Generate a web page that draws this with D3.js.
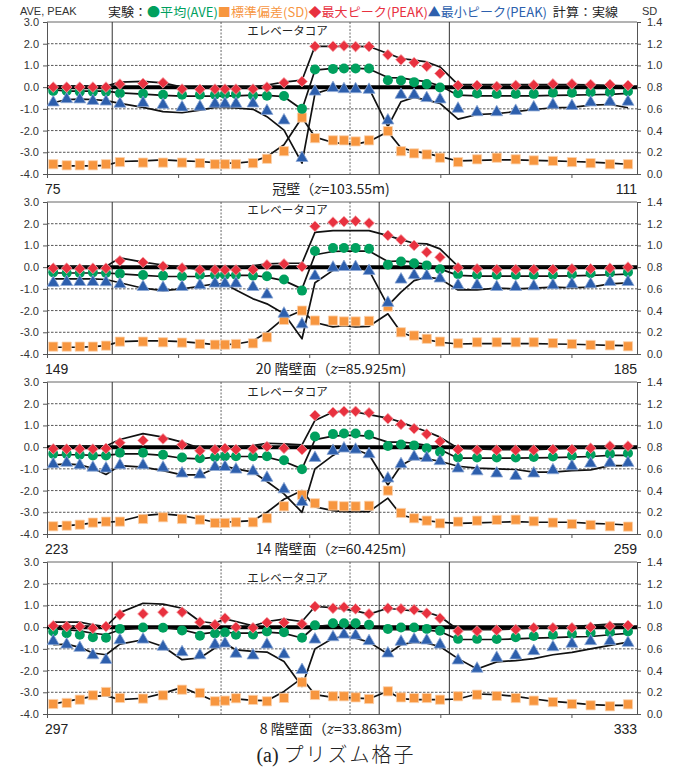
<!DOCTYPE html>
<html>
<head>
<meta charset="utf-8">
<script src="https://cdn.jsdelivr.net/npm/d3@7"></script>
<style>
  body { margin: 0; background: #fff; }
  svg { display: block; }
</style>
</head>
<body>
<svg id="chart" width="682" height="769"></svg>
<script>
// Tap positions along the wall, as offsets from the first tap number of each floor
const tapOffsets = [0.38, 1.2, 2.0, 2.8, 3.6, 4.45, 5.86, 7.08, 8.24, 9.33, 10.25, 10.86, 11.53,
  12.57, 13.42, 14.46, 15.56, 16.35, 17.45, 18.12, 18.83, 19.65, 20.8, 21.6, 22.4, 23.17, 23.98,
  25.08, 26.24, 27.44, 28.6, 29.7, 30.87, 32.03, 33.17, 34.35, 35.45];
const tapSpan = 36;
const tapTicks = [0, 8, 16, 24, 32];

// One panel per measurement height
const panelStartTaps = [75, 149, 223, 297];
const panelNames = ["冠壁", "20 階壁面", "14 階壁面", "8 階壁面"];
const panelHeights = ["103.55", "85.925", "60.425", "33.863"];

// Axis ticks
const peakTicks = [-4, -3, -2, -1, 0, 1, 2, 3];
const sdTicks = [0, 0.2, 0.4, 0.6, 0.8, 1.0, 1.2, 1.4];

// Building outline along the tap line: wall corners and elevator-core edges
const wallCorners = [3.98, 20.27, 24.55];
const coreEdges = [10.62, 18.49];

// Experiment: mean pressure coefficient
const aveExp = [
  [-0.18,-0.18,-0.21,-0.21,-0.21,-0.28,-0.31,-0.35,-0.35,-0.35,-0.35,-0.32,-0.32,-0.38,-0.40,-0.41,-1.00,0.81,0.84,
   0.86,0.86,0.86,0.32,0.31,0.23,0.14,-0.02,-0.28,-0.29,-0.31,-0.31,-0.31,-0.26,-0.26,-0.23,-0.23,-0.20],
  [-0.24,-0.27,-0.27,-0.24,-0.27,-0.30,-0.36,-0.39,-0.42,-0.36,-0.36,-0.36,-0.36,-0.39,-0.42,-0.57,-1.08,0.74,0.88,
   0.88,0.88,0.85,0.11,0.26,0.18,0.08,-0.10,-0.32,-0.35,-0.35,-0.35,-0.35,-0.35,-0.32,-0.28,-0.26,-0.23],
  [-0.31,-0.31,-0.35,-0.38,-0.38,-0.26,-0.26,-0.35,-0.48,-0.51,-0.45,-0.42,-0.42,-0.42,-0.42,-0.60,-1.02,0.49,0.60,
   0.63,0.63,0.57,0.05,0.12,0.08,-0.05,-0.22,-0.48,-0.48,-0.48,-0.48,-0.45,-0.43,-0.40,-0.34,-0.31,-0.28],
  [-0.20,-0.28,-0.35,-0.46,-0.49,-0.08,-0.02,-0.03,-0.15,-0.40,-0.29,-0.25,-0.35,-0.34,-0.20,-0.23,-0.49,0.09,0.18,
   0.18,0.18,0.11,-0.08,-0.02,-0.02,-0.08,-0.17,-0.54,-0.54,-0.55,-0.46,-0.41,-0.35,-0.31,-0.26,-0.23,-0.20]
];
// Experiment: standard deviation (right axis)
const sdExp = [
  [0.09,0.08,0.08,0.08,0.09,0.11,0.105,0.105,0.105,0.10,0.09,0.09,0.09,0.10,0.14,0.21,0.52,0.33,0.31,
   0.31,0.30,0.31,0.395,0.21,0.19,0.18,0.15,0.11,0.135,0.15,0.135,0.125,0.12,0.11,0.10,0.09,0.09],
  [0.068,0.068,0.068,0.068,0.077,0.114,0.114,0.108,0.105,0.092,0.086,0.086,0.092,0.098,0.154,0.314,0.40,0.308,0.308,
   0.30,0.30,0.305,0.437,0.20,0.17,0.14,0.114,0.098,0.108,0.108,0.108,0.108,0.10,0.092,0.083,0.08,0.071],
  [0.071,0.077,0.086,0.105,0.114,0.114,0.138,0.154,0.138,0.132,0.102,0.102,0.108,0.108,0.145,0.255,0.36,0.283,0.262,
   0.255,0.255,0.26,0.40,0.194,0.145,0.123,0.098,0.114,0.123,0.13,0.132,0.117,0.105,0.092,0.083,0.071,0.068],
  [0.092,0.102,0.132,0.172,0.203,0.148,0.142,0.172,0.224,0.194,0.117,0.123,0.145,0.13,0.117,0.148,0.292,0.175,0.163,
   0.163,0.153,0.138,0.209,0.153,0.147,0.147,0.132,0.163,0.178,0.166,0.147,0.123,0.11,0.092,0.08,0.071,0.089]
];
// Experiment: maximum peak
const maxExp = [
  [0.00,0.00,0.00,0.00,0.00,0.14,0.17,0.20,-0.09,-0.10,-0.09,-0.09,-0.09,-0.09,0.00,0.20,0.26,1.88,1.88,
   1.90,1.87,1.87,1.49,1.26,1.13,0.96,0.63,0.08,0.08,0.03,0.08,0.10,0.15,0.15,0.12,0.12,0.08],
  [-0.05,-0.05,-0.08,-0.05,-0.05,0.29,0.22,0.04,-0.04,-0.13,-0.13,-0.13,-0.13,-0.12,0.10,0.15,0.02,1.88,2.07,
   2.10,2.12,2.03,1.46,1.26,1.00,0.69,0.46,-0.03,-0.08,-0.11,-0.11,-0.11,-0.11,-0.08,-0.08,-0.05,0.00],
  [-0.08,-0.09,-0.09,-0.09,-0.06,0.20,0.31,0.38,0.11,-0.17,-0.12,-0.06,-0.11,-0.09,0.02,-0.05,-0.11,1.46,1.60,
   1.65,1.65,1.58,1.31,1.05,0.85,0.60,0.26,-0.11,-0.14,-0.14,-0.14,-0.14,-0.11,-0.11,-0.05,0.05,0.05],
  [0.06,0.03,0.03,-0.05,0.03,0.57,0.61,0.69,0.69,0.23,0.11,0.41,0.00,-0.03,0.21,0.21,0.15,0.95,0.87,
   0.92,0.84,0.61,0.87,0.84,0.80,0.64,0.41,-0.18,-0.18,-0.14,-0.11,-0.03,-0.03,-0.03,0.00,0.05,0.08]
];
// Experiment: minimum peak
const minExp = [
  [-0.64,-0.49,-0.50,-0.57,-0.60,-0.70,-0.67,-0.75,-0.87,-0.84,-0.70,-0.70,-0.70,-0.69,-1.03,-1.47,-3.20,-0.14,0.02,
   -0.03,-0.03,-0.06,-1.47,-0.29,-0.29,-0.44,-0.50,-0.93,-1.09,-1.09,-1.03,-0.87,-0.75,-0.80,-0.64,-0.61,-0.61],
  [-0.66,-0.62,-0.62,-0.62,-0.63,-0.72,-0.85,-0.89,-0.85,-0.77,-0.69,-0.69,-0.69,-0.85,-1.20,-2.08,-2.57,-0.34,0.04,
   0.07,0.07,-0.11,-1.58,-0.51,-0.31,-0.34,-0.46,-0.77,-0.77,-0.85,-0.85,-0.82,-0.77,-0.72,-0.72,-0.62,-0.62],
  [-0.72,-0.66,-0.77,-0.88,-0.92,-0.77,-0.77,-0.88,-1.15,-1.20,-0.85,-0.85,-0.97,-1.05,-1.35,-1.88,-2.46,-0.43,-0.11,
   0.00,-0.05,-0.26,-1.38,-0.72,-0.38,-0.43,-0.58,-0.92,-1.05,-1.15,-1.26,-1.15,-1.00,-0.82,-0.69,-0.66,-0.66],
  [-0.58,-0.74,-0.89,-1.23,-1.45,-0.54,-0.51,-0.84,-1.09,-1.23,-0.74,-0.69,-1.16,-1.24,-0.74,-1.19,-1.91,-0.51,-0.40,
   -0.28,-0.32,-0.58,-1.15,-0.61,-0.51,-0.55,-0.74,-1.47,-1.85,-1.35,-1.24,-1.04,-0.86,-0.70,-0.58,-0.58,-0.66]
];

// Calculation (solid lines)
const aveCalc = [
  [-0.12,-0.18,-0.18,-0.18,-0.18,-0.26,-0.32,-0.38,-0.41,-0.41,-0.41,-0.40,-0.40,-0.37,-0.38,-0.44,-1.03,0.78,0.86,
   0.86,0.86,0.84,0.44,0.43,0.32,0.25,0.06,-0.37,-0.40,-0.40,-0.40,-0.40,-0.38,-0.37,-0.35,-0.33,-0.29],
  [-0.27,-0.27,-0.27,-0.27,-0.27,-0.31,-0.38,-0.43,-0.43,-0.43,-0.38,-0.38,-0.38,-0.38,-0.46,-0.62,-1.00,0.57,0.72,
   0.74,0.74,0.74,0.26,0.29,0.23,0.11,-0.08,-0.38,-0.41,-0.41,-0.41,-0.41,-0.41,-0.40,-0.38,-0.35,-0.32],
  [-0.38,-0.35,-0.35,-0.38,-0.38,-0.31,-0.31,-0.38,-0.51,-0.54,-0.46,-0.43,-0.43,-0.43,-0.46,-0.66,-1.00,0.35,0.51,
   0.54,0.54,0.51,0.23,0.23,0.18,0.08,-0.11,-0.51,-0.51,-0.51,-0.51,-0.49,-0.48,-0.46,-0.43,-0.38,-0.38],
  [-0.08,-0.12,-0.17,-0.28,-0.35,-0.12,-0.05,-0.02,-0.12,-0.32,-0.23,-0.23,-0.28,-0.28,-0.23,-0.29,-0.50,0.03,0.11,
   0.11,0.08,0.02,-0.12,-0.12,-0.12,-0.14,-0.20,-0.57,-0.57,-0.57,-0.54,-0.51,-0.48,-0.45,-0.43,-0.35,-0.29]
];
const sdCalc = [
  [0.075,0.075,0.075,0.075,0.08,0.115,0.12,0.13,0.12,0.115,0.105,0.10,0.10,0.115,0.16,0.27,0.52,0.34,0.29,
   0.28,0.275,0.30,0.39,0.24,0.21,0.19,0.16,0.12,0.125,0.13,0.13,0.125,0.12,0.115,0.11,0.10,0.09],
  [0.062,0.062,0.062,0.068,0.077,0.114,0.12,0.12,0.114,0.10,0.086,0.086,0.092,0.12,0.20,0.33,0.40,0.29,0.25,
   0.26,0.25,0.255,0.37,0.20,0.154,0.132,0.108,0.092,0.095,0.095,0.095,0.095,0.092,0.09,0.085,0.08,0.077],
  [0.071,0.077,0.086,0.102,0.108,0.117,0.17,0.185,0.17,0.138,0.108,0.108,0.114,0.123,0.20,0.32,0.40,0.25,0.215,
   0.206,0.206,0.206,0.33,0.175,0.145,0.123,0.108,0.098,0.102,0.108,0.114,0.108,0.108,0.108,0.098,0.092,0.083],
  [0.092,0.117,0.14,0.163,0.169,0.132,0.145,0.19,0.245,0.178,0.117,0.126,0.14,0.126,0.123,0.208,0.33,0.178,0.153,
   0.153,0.147,0.141,0.21,0.141,0.132,0.132,0.132,0.138,0.184,0.178,0.163,0.138,0.117,0.102,0.086,0.08,0.08]
];
const maxCalc = [
  [0.05,0.05,0.05,0.05,0.05,0.23,0.27,0.20,0.00,-0.05,-0.05,-0.03,-0.02,0.00,0.10,0.23,0.32,1.88,1.88,
   1.88,1.88,1.87,1.55,1.32,1.24,1.16,0.93,0.12,0.12,0.12,0.12,0.12,0.12,0.12,0.10,0.08,0.06],
  [0.03,0.03,0.03,0.03,0.03,0.43,0.23,0.10,0.00,-0.10,-0.10,-0.10,-0.05,0.07,0.15,0.18,0.18,1.60,1.68,
   1.68,1.68,1.68,1.45,1.27,1.10,1.07,0.84,0.04,0.04,0.04,0.04,0.04,0.04,0.05,0.05,0.06,0.07],
  [0.05,0.05,0.05,0.05,0.05,0.35,0.62,0.46,0.23,-0.05,-0.05,-0.05,0.00,0.07,0.18,0.15,0.10,1.23,1.62,
   1.65,1.62,1.50,1.34,1.15,0.92,0.72,0.46,-0.05,-0.08,-0.11,-0.11,-0.11,-0.08,-0.05,0.00,0.00,0.00],
  [0.23,0.23,0.23,0.11,0.03,0.67,1.10,1.06,0.87,0.26,0.18,0.38,0.26,0.06,0.26,0.37,0.26,0.95,0.90,
   0.83,0.75,0.60,0.87,0.80,0.75,0.69,0.49,-0.12,-0.12,-0.12,-0.08,-0.02,0.03,0.03,0.08,0.14,0.14]
];
const minCalc = [
  [-0.72,-0.57,-0.55,-0.57,-0.62,-0.75,-0.93,-1.13,-1.18,-1.06,-0.93,-0.93,-0.96,-1.02,-1.36,-1.98,-3.50,-0.30,-0.05,
   -0.03,-0.03,-0.06,-1.82,-0.67,-0.47,-0.60,-0.75,-1.47,-1.26,-1.22,-1.13,-1.03,-0.95,-0.93,-0.83,-0.80,-0.95],
  [-0.54,-0.54,-0.54,-0.54,-0.57,-0.72,-0.97,-1.08,-1.00,-0.88,-0.77,-0.77,-1.05,-1.46,-1.69,-2.15,-3.30,-0.72,-0.15,
   0.00,-0.05,-0.15,-1.77,-1.15,-0.62,-0.46,-0.54,-1.05,-1.05,-0.97,-1.00,-0.97,-0.92,-0.95,-0.92,-0.77,-0.72],
  [-0.82,-0.77,-0.82,-0.97,-1.26,-0.85,-0.92,-1.08,-1.28,-1.28,-0.97,-0.88,-1.00,-1.15,-1.58,-2.15,-3.00,-1.00,-0.38,
   -0.08,-0.11,-0.35,-1.74,-0.85,-0.51,-0.54,-0.65,-0.88,-0.97,-1.00,-1.03,-1.15,-1.15,-1.08,-1.05,-0.85,-0.85],
  [-0.81,-0.78,-0.93,-1.19,-1.27,-0.78,-0.58,-0.89,-1.50,-1.42,-0.96,-0.74,-1.05,-1.12,-1.15,-1.58,-2.73,-1.00,-0.51,
   -0.43,-0.51,-0.69,-1.24,-0.81,-0.69,-0.74,-0.89,-1.45,-1.93,-1.60,-1.54,-1.45,-1.27,-1.16,-1.00,-0.84,-0.69]
];

// ---- layout ----
const plotLeft = 47, plotRight = 637;
const panelTop0 = 22, panelStep = 180, panelH = 152;
const coreLabelDy = [9, 8, 10, 16];

const C = {
  ave: "#00a05e",
  sd: "#f7963f",
  max: "#e8313f",
  min: "#2d5fad",
  axis: "#555",
  text: "#333"
};
const fontJP = "'Noto Sans CJK JP', 'Noto Sans', sans-serif";
const fontNum = "'Liberation Sans', Arial, 'Noto Sans CJK JP', sans-serif";

const svg = d3.select("#chart");

const fmt = d => d.toFixed(1);

// marker shapes
const markerPath = {
  ave: "M5,0A5,5 0 1,1 -5,0A5,5 0 1,1 5,0Z",
  sd: "M-4.6,-4.6H4.6V4.6H-4.6Z",
  max: "M0,-5.4L5.4,0L0,5.4L-5.4,0Z",
  min: "M0,-5.6L6,4.9L-6,4.9Z"
};
const markerStroke = {
  ave: "none",
  sd: "#fbd3b0",
  max: "#f7a7ac",
  min: "#8fa9d6"
};

// ---- header ----
svg.append("text").attr("x", 20).attr("y", 15)
  .attr("font-family", fontNum).attr("font-size", 11).attr("fill", C.text)
  .text("AVE, PEAK");
svg.append("text").attr("x", 642).attr("y", 15)
  .attr("font-family", fontNum).attr("font-size", 11).attr("fill", C.text)
  .text("SD");

const legendParts = [
  { t: "実験：", c: "#222" },
  { t: "●平均(AVE)", c: C.ave },
  { t: "■標準偏差(SD)", c: C.sd },
  { t: "◆最大ピーク(PEAK)", c: C.max },
  { t: "▲最小ピーク(PEAK)", c: C.min },
  { t: "  計算：実線", c: "#222" }
];
const legend = svg.append("text").attr("x", 108).attr("y", 17)
  .attr("font-family", fontJP).attr("font-size", 12.5)
  .attr("textLength", 510).attr("lengthAdjust", "spacingAndGlyphs")
  .attr("xml:space", "preserve");
legendParts.forEach(p => legend.append("tspan").attr("fill", p.c).text(p.t));

// ---- panels ----
panelStartTaps.forEach((start, i) => {
  const top = panelTop0 + i * panelStep;
  const bottom = top + panelH;

  const x = d3.scaleLinear().domain([0, tapSpan]).range([plotLeft, plotRight]);
  const y = d3.scaleLinear().domain([-4, 3]).range([bottom, top]);
  const ySd = d3.scaleLinear().domain([0, 1.4]).range([bottom, top]);

  const g = svg.append("g");

  // horizontal grid
  g.append("g").selectAll("line")
    .data(peakTicks.filter(v => v !== 0 && v !== -4))
    .join("line")
    .attr("x1", plotLeft).attr("x2", plotRight)
    .attr("y1", d => y(d)).attr("y2", d => y(d))
    .attr("stroke", d => d === 3 ? C.axis : "#444")
    .attr("stroke-width", 0.9)
    .attr("stroke-dasharray", d => d === 3 ? null : "2.5,1.5");

  // building outline markers
  g.append("g").selectAll("line").data(wallCorners).join("line")
    .attr("x1", d => x(d)).attr("x2", d => x(d))
    .attr("y1", top).attr("y2", bottom)
    .attr("stroke", "#333").attr("stroke-width", 1);
  g.append("g").selectAll("line").data(coreEdges).join("line")
    .attr("x1", d => x(d)).attr("x2", d => x(d))
    .attr("y1", top).attr("y2", bottom)
    .attr("stroke", "#555").attr("stroke-width", 0.9)
    .attr("stroke-dasharray", "2,1.5");

  // axes
  const axL = d3.axisLeft(y).tickValues(peakTicks).tickFormat(fmt).tickSize(4).tickPadding(4);
  const axR = d3.axisRight(ySd).tickValues(sdTicks).tickFormat(fmt).tickSize(4).tickPadding(6);
  const axB = d3.axisBottom(x).tickValues(tapTicks).tickFormat("").tickSize(4).tickSizeOuter(0);

  const styleAxis = sel => {
    sel.select(".domain").attr("stroke", C.axis).attr("stroke-width", 1);
    sel.selectAll(".tick line").attr("stroke", C.axis);
    sel.selectAll(".tick text").attr("fill", C.text)
      .attr("font-family", fontNum).attr("font-size", 11);
  };
  g.append("g").attr("transform", `translate(${plotLeft},0)`).call(axL).call(styleAxis);
  g.append("g").attr("transform", `translate(${plotRight},0)`).call(axR).call(styleAxis);
  g.append("g").attr("transform", `translate(0,${bottom})`).call(axB).call(styleAxis);

  // zero line
  g.append("line")
    .attr("x1", plotLeft).attr("x2", plotRight)
    .attr("y1", y(0)).attr("y2", y(0))
    .attr("stroke", "#000").attr("stroke-width", 4);

  // core label
  g.append("text")
    .attr("x", x((coreEdges[0] + coreEdges[1]) / 2) + 2)
    .attr("y", top + coreLabelDy[i] + 4)
    .attr("text-anchor", "middle")
    .attr("font-family", fontJP).attr("font-size", 11.5).attr("fill", "#222")
    .text("エレベータコア");

  // calculated curves
  const lineP = d3.line().x((d, k) => x(tapOffsets[k])).y(d => y(d));
  const lineS = d3.line().x((d, k) => x(tapOffsets[k])).y(d => ySd(d));
  [aveCalc[i], maxCalc[i], minCalc[i]].forEach(arr => {
    g.append("path").attr("d", lineP(arr))
      .attr("fill", "none").attr("stroke", "#111").attr("stroke-width", 1.7)
      .attr("stroke-linejoin", "round");
  });
  g.append("path").attr("d", lineS(sdCalc[i]))
    .attr("fill", "none").attr("stroke", "#111").attr("stroke-width", 1.7)
    .attr("stroke-linejoin", "round");

  // experimental markers
  const drawMarkers = (arr, key, scale) => {
    g.append("g").selectAll("path").data(arr).join("path")
      .attr("transform", (d, k) => `translate(${x(tapOffsets[k])},${scale(d)})`)
      .attr("d", markerPath[key])
      .attr("fill", C[key])
      .attr("stroke", markerStroke[key])
      .attr("stroke-width", 0.8);
  };
  drawMarkers(sdExp[i], "sd", ySd);
  drawMarkers(aveExp[i], "ave", y);
  drawMarkers(minExp[i], "min", y);
  drawMarkers(maxExp[i], "max", y);

  // bottom labels
  const lblY = bottom + 20;
  g.append("text").attr("x", plotLeft - 2).attr("y", lblY)
    .attr("font-family", fontNum).attr("font-size", 14).attr("fill", "#222")
    .text(start);
  g.append("text").attr("x", plotRight).attr("y", lblY).attr("text-anchor", "end")
    .attr("font-family", fontNum).attr("font-size", 14).attr("fill", "#222")
    .text(start + tapSpan);
  const title = g.append("text").attr("x", 331).attr("y", lblY).attr("text-anchor", "middle")
    .attr("font-family", fontJP).attr("font-size", 14).attr("fill", "#222");
  title.append("tspan").text(panelNames[i] + "（");
  title.append("tspan").attr("font-style", "italic").attr("font-family", "'DejaVu Serif', serif").text("z");
  title.append("tspan").text("=" + panelHeights[i] + "m)");
});

// caption
const cap = svg.append("text").attr("x", 336).attr("y", 762).attr("text-anchor", "middle")
  .attr("font-size", 20).attr("fill", "#222")
  .attr("font-family", "'Liberation Serif', 'DejaVu Serif', 'Noto Sans CJK JP', serif");
cap.append("tspan").text("(a) ");
cap.append("tspan").attr("font-family", fontJP).attr("font-weight", 300)
  .attr("letter-spacing", 2).text("プリズム格子");
</script>
</body>
</html>
